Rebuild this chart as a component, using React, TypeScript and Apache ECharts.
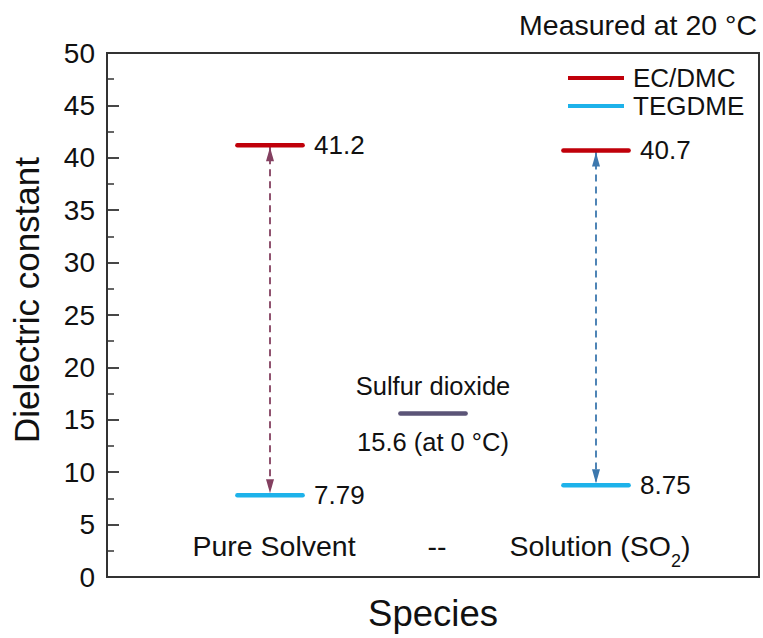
import React, { useEffect, useRef } from "react";
import * as echarts from "echarts";

// ---- data ----
const categories = ["Pure Solvent", "--", "Solution (SO₂)"];
const categoryPositions = [1, 2, 3];
const ecdmcValues: (number | null)[] = [41.2, null, 40.7];
const tegdmeValues: (number | null)[] = [7.79, null, 8.75];
const so2Value = 15.6;
const so2Position = 2;
const yTicks = [0, 5, 10, 15, 20, 25, 30, 35, 40, 45, 50];

const FONT = "'Liberation Sans', Arial, Helvetica, sans-serif";
const RED = "#c0000a";
const CYAN = "#1db2ea";
const SO2C = "#5b5477";
const ARROW_COLORS = ["#844060", null, "#3c78ae"];
const TEXT = "#111111";
const AX = "#333333";
const HALF = 0.2;

export default function App() {
  const ref = useRef<HTMLDivElement>(null);
  useEffect(() => {
    if (!ref.current) return;
    const chart = echarts.init(ref.current, undefined, { renderer: "svg" });

    const series: any[] = [];
    // arrows (drawn first, beneath segments)
    categoryPositions.forEach((p, i) => {
      const top = ecdmcValues[i];
      const bot = tegdmeValues[i];
      if (top == null || bot == null) return;
      const c = ARROW_COLORS[i] as string;
      series.push({
        type: "line",
        name: "arrow" + i,
        z: 2,
        silent: true,
        symbol: "triangle",
        symbolSize: [8, 14],
        showSymbol: true,
        lineStyle: { color: c, width: 1.8, type: [7, 5] },
        itemStyle: { color: c },
        data: [
          { value: [p, top], symbolRotate: 0, symbolOffset: [0, 9] },
          { value: [p, bot], symbolRotate: 180, symbolOffset: [0, -9] },
        ],
      });
    });
    const addSegs = (name: string, vals: (number | null)[], color: string) => {
      categoryPositions.forEach((p, i) => {
        const v = vals[i];
        if (v == null) return;
        series.push({
          type: "line",
          name,
          z: 3,
          silent: true,
          symbol: "none",
          lineStyle: { color, width: 4.5, cap: "round" },
          itemStyle: { color },
          data: [
            [p - HALF, v],
            [p + HALF, v],
          ],
        });
      });
    };
    addSegs("EC/DMC", ecdmcValues, RED);
    addSegs("TEGDME", tegdmeValues, CYAN);
    series.push({
      type: "line",
      name: "Sulfur dioxide",
      z: 3,
      silent: true,
      symbol: "none",
      lineStyle: { color: SO2C, width: 4.5, cap: "round" },
      itemStyle: { color: SO2C },
      data: [
        [so2Position - HALF, so2Value],
        [so2Position + HALF, so2Value],
      ],
    });
    // value labels
    const labelPts: number[][] = [];
    categoryPositions.forEach((p, i) => {
      const a = ecdmcValues[i];
      const b = tegdmeValues[i];
      if (a != null) labelPts.push([p + HALF, a]);
      if (b != null) labelPts.push([p + HALF, b]);
    });
    series.push({
      type: "scatter",
      name: "values",
      silent: true,
      symbolSize: 1,
      itemStyle: { color: "rgba(0,0,0,0)", opacity: 1 },
      label: {
        show: true,
        position: "right",
        distance: 11,
        color: TEXT,
        fontSize: 26,
        fontFamily: FONT,
        formatter: (d: any) => String(d.value[1]),
      },
      data: labelPts,
    });
    series.push({
      type: "scatter",
      name: "so2label",
      silent: true,
      symbolSize: 1,
      itemStyle: { color: "rgba(0,0,0,0)", opacity: 1 },
      label: {
        show: true,
        position: "inside",
        color: TEXT,
        fontSize: 25.5,
        lineHeight: 28,
        fontFamily: FONT,
        formatter: (d: any) => `Sulfur dioxide\n\n${d.value[1]} (at 0 °C)`,
      },
      data: [[so2Position, so2Value]],
    });

    chart.setOption({
      animation: false,
      backgroundColor: "#ffffff",
      textStyle: { fontFamily: FONT },
      title: {
        text: "Measured at 20 °C",
        right: 1,
        top: 5,
        textStyle: { fontSize: 28.5, fontWeight: "normal", color: TEXT, fontFamily: FONT },
      },
      legend: {
        data: [
          { name: "EC/DMC", icon: "rect" },
          { name: "TEGDME", icon: "rect" },
        ],
        orient: "vertical",
        left: 563,
        top: 60,
        itemWidth: 56,
        itemHeight: 4,
        itemGap: 2,
        selectedMode: false,
        textStyle: { fontSize: 26, color: TEXT, fontFamily: FONT, padding: [0, 0, 0, 4] },
      },
      grid: {
        left: 107,
        right: 4,
        top: 53,
        bottom: 61,
        show: true,
        borderColor: AX,
        borderWidth: 2,
        backgroundColor: "transparent",
        outerBoundsMode: "none",
      },
      xAxis: {
        type: "value",
        min: 0,
        max: 4,
        interval: 1,
        name: "Species",
        nameLocation: "middle",
        nameGap: 18,
        nameTextStyle: { fontSize: 36.5, color: TEXT, fontFamily: FONT },
        axisLine: { show: true, lineStyle: { color: AX, width: 2 } },
        axisTick: { show: false },
        splitLine: { show: false },
        axisLabel: {
          inside: true,
          margin: 7,
          fontSize: 28.5,
          lineHeight: 49,
          color: TEXT,
          fontFamily: FONT,
          showMinLabel: false,
          showMaxLabel: false,
          padding: [0, 0, 0, 8],
          formatter: (v: number) => {
            const idx = categoryPositions.indexOf(v);
            if (idx < 0) return "";
            return categories[idx].replace("₂", "{sub|2}");
          },
          rich: {
            sub: { fontSize: 18, lineHeight: 49, verticalAlign: "bottom", color: TEXT, fontFamily: FONT },
          },
        },
      },
      yAxis: {
        type: "value",
        min: yTicks[0],
        max: yTicks[yTicks.length - 1],
        interval: 5,
        name: "Dielectric constant",
        nameLocation: "middle",
        nameGap: 63,
        nameTextStyle: { fontSize: 35, color: TEXT, fontFamily: FONT, padding: [0, 0, 0, 30] },
        axisLine: { show: true, lineStyle: { color: AX, width: 2 } },
        axisTick: { show: true, inside: true, length: 12, lineStyle: { color: AX, width: 1.8 } },
        minorTick: { show: true, splitNumber: 2, length: 7, lineStyle: { color: AX, width: 1.5 } },
        splitLine: { show: false },
        axisLabel: { margin: 12, fontSize: 28, color: TEXT, fontFamily: FONT },
      },
      series,
    });
    return () => chart.dispose();
  }, []);
  return <div ref={ref} style={{ width: 763, height: 638, position: "absolute", left: 0, top: 0 }} />;
}
